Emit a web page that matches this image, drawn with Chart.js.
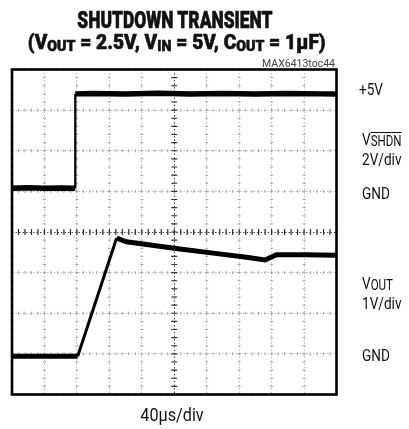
<!DOCTYPE html>
<html>
<head>
<meta charset="utf-8">
<script src="https://cdn.jsdelivr.net/npm/chart.js@4.4.0/dist/chart.umd.min.js"></script>
<style>
  html,body{margin:0;padding:0;background:#fff;}
  #wrap{position:relative;width:409px;height:429px;overflow:hidden;}
  #wrap canvas{position:absolute;left:0;top:0;}
  .title{position:absolute;left:0;width:350px;text-align:center;font-family:Roboto,"Liberation Sans",sans-serif;font-weight:900;color:#111;white-space:nowrap;-webkit-text-stroke:0.6px #111;}
  .title span.in{display:inline-block;}
  .title sub{font-size:.74em;vertical-align:-.14em;line-height:0;}
  .lab{position:absolute;font-family:Roboto,"Liberation Sans",sans-serif;font-size:17px;line-height:17px;color:#111;white-space:nowrap;transform-origin:left center;transform:scaleX(.8);}
  .lab sub{font-size:.85em;vertical-align:-.05em;line-height:0;}
  .ov{text-decoration:overline;}
  .code{position:absolute;font-family:Roboto,"Liberation Sans",sans-serif;font-size:10.5px;line-height:10px;color:#444;white-space:nowrap;}
</style>
</head>
<body>
<div id="wrap">
  <canvas id="c" width="409" height="429"></canvas>
  <div class="title" style="top:8.5px;font-size:23.5px;line-height:23.5px;"><span class="in" style="transform:scaleX(.74);">SHUTDOWN TRANSIENT</span></div>
  <div class="title" style="top:32.3px;font-size:21px;line-height:21px;left:2px;"><span class="in" style="transform:scaleX(.91);">(V<sub>OUT</sub> = 2.5V, V<sub>IN</sub> = 5V, C<sub>OUT</sub> = 1µF)</span></div>
  <div class="code" style="top:58.6px;right:74px;">MAX6413toc44</div>
  <div class="lab" style="left:359px;top:80.7px;">+5V</div>
  <div class="lab" style="left:362px;top:131px;">V<sub class="ov">SHDN</sub></div>
  <div class="lab" style="left:362px;top:150.7px;">2V/div</div>
  <div class="lab" style="left:362px;top:185px;">GND</div>
  <div class="lab" style="left:362px;top:274.7px;">V<sub>OUT</sub></div>
  <div class="lab" style="left:362px;top:295px;">1V/div</div>
  <div class="lab" style="left:362px;top:347px;">GND</div>
  <div class="lab" style="left:171.7px;top:405.7px;transform-origin:center center;transform:translateX(-50%) scaleX(.9);font-size:18px;">40µs/div</div>
</div>
<script>
// ---- data (time in µs, voltages in V) ----
const shdnTime  = [0, 20, 40, 60, 78, 78, 100, 140, 180, 220, 260, 300, 340, 380, 400];
const shdnVolts = [0.15, 0.18, 0.15, 0.17, 0.15, 4.8, 4.82, 4.8, 4.83, 4.8, 4.82, 4.79, 4.82, 4.8, 4.8];

const voutTime  = [0, 40, 81, 129, 141, 207, 248, 289, 312, 326, 360, 400];
const voutVolts = [-0.06, -0.06, -0.06, 2.85, 2.76, 2.58, 2.48, 2.38, 2.31, 2.44, 2.44, 2.43];

// graticule: 10 horizontal divisions of 40 µs, 8 vertical divisions
const timePerDiv = 40;
const timeMax = 400;
const shdnAxis = {min: -10, max: 6};   // 2 V/div, GND at 5th division from bottom
const voutAxis = {min: -1, max: 7, step: 1}; // 1 V/div, GND at 1st division from bottom

const toXY = (ts, vs) => ts.map((t, i) => ({x: t, y: vs[i]}));

const segWidth = (ctx, thick) => {
  const dx = Math.abs(ctx.p1.x - ctx.p0.x), dy = Math.abs(ctx.p1.y - ctx.p0.y);
  if (dx < 0.5) return 2.2;
  if (dy > dx * 1.5) return 3;
  return thick;
};

const graticule = {
  id: 'graticule',
  beforeDatasetsDraw(chart) {
    const {ctx, chartArea: a, scales} = chart;
    const x = scales.x, y = scales.y;
    const cx = x.getPixelForValue(timeMax / 2);
    const cy = y.getPixelForValue((voutAxis.min + voutAxis.max) / 2);
    ctx.save();
    // minor marks on every grid line
    ctx.strokeStyle = '#a5a5a5';
    ctx.lineWidth = 1;
    ctx.beginPath();
    for (let t = 0; t <= timeMax; t += timePerDiv) {
      const px = x.getPixelForValue(t);
      for (let k = 0; k <= 40; k++) {
        const py = y.getPixelForValue(voutAxis.min + k * 0.2);
        ctx.moveTo(px - 1.5, py); ctx.lineTo(px + 1.5, py);
      }
    }
    for (let v = voutAxis.min; v <= voutAxis.max; v += voutAxis.step) {
      const py = y.getPixelForValue(v);
      for (let k = 0; k <= 50; k++) {
        const px = x.getPixelForValue(k * timePerDiv / 5);
        ctx.moveTo(px, py - 1.5); ctx.lineTo(px, py + 1.5);
      }
    }
    ctx.stroke();
    // centre cross ticks
    ctx.strokeStyle = '#333';
    ctx.lineWidth = 1.2;
    ctx.beginPath();
    for (let k = 0; k <= 50; k++) {
      const px = x.getPixelForValue(k * timePerDiv / 5);
      ctx.moveTo(px, cy - 3); ctx.lineTo(px, cy + 3);
    }
    for (let k = 0; k <= 40; k++) {
      const py = y.getPixelForValue(voutAxis.min + k * 0.2);
      ctx.moveTo(cx - 3, py); ctx.lineTo(cx + 3, py);
    }
    ctx.stroke();
    ctx.restore();
  },
  afterDraw(chart) {
    const {ctx, chartArea: a} = chart;
    ctx.save();
    ctx.strokeStyle = '#000';
    ctx.lineWidth = 2.6;
    ctx.strokeRect(a.left, a.top, a.right - a.left, a.bottom - a.top);
    ctx.restore();
  }
};

new Chart(document.getElementById('c'), {
  type: 'line',
  data: {
    datasets: [
      {
        label: 'VSHDN',
        data: toXY(shdnTime, shdnVolts),
        yAxisID: 'yShdn',
        borderColor: '#000',
        borderWidth: 5.5,
        pointRadius: 0,
        tension: 0,
        segment: {borderWidth: ctx => segWidth(ctx, 5.5)}
      },
      {
        label: 'VOUT',
        data: toXY(voutTime, voutVolts),
        yAxisID: 'y',
        borderColor: '#000',
        borderWidth: 5,
        pointRadius: 0,
        tension: 0,
        segment: {borderWidth: ctx => segWidth(ctx, 5)}
      }
    ]
  },
  options: {
    responsive: false,
    animation: false,
    layout: {padding: {left: 12, right: 72.5, top: 69.5, bottom: 34.5}},
    plugins: {legend: {display: false}, tooltip: {enabled: false}, title: {display: false}},
    scales: {
      x: {
        type: 'linear', min: 0, max: timeMax,
        ticks: {stepSize: timePerDiv, display: false},
        grid: {color: c => c.tick && c.tick.value === timeMax / 2 ? '#444' : '#bdbdbd', lineWidth: 1, drawTicks: false},
        border: {display: false, dash: [1.5, 2]}
      },
      y: {
        type: 'linear', position: 'left', min: voutAxis.min, max: voutAxis.max,
        ticks: {stepSize: voutAxis.step, display: false},
        grid: {color: c => c.tick && c.tick.value === 3 ? '#444' : '#bdbdbd', lineWidth: 1, drawTicks: false},
        border: {display: false, dash: [1.5, 2]}
      },
      yShdn: {
        type: 'linear', position: 'right', display: false,
        min: shdnAxis.min, max: shdnAxis.max
      }
    }
  },
  plugins: [graticule]
});
</script>
</body>
</html>
